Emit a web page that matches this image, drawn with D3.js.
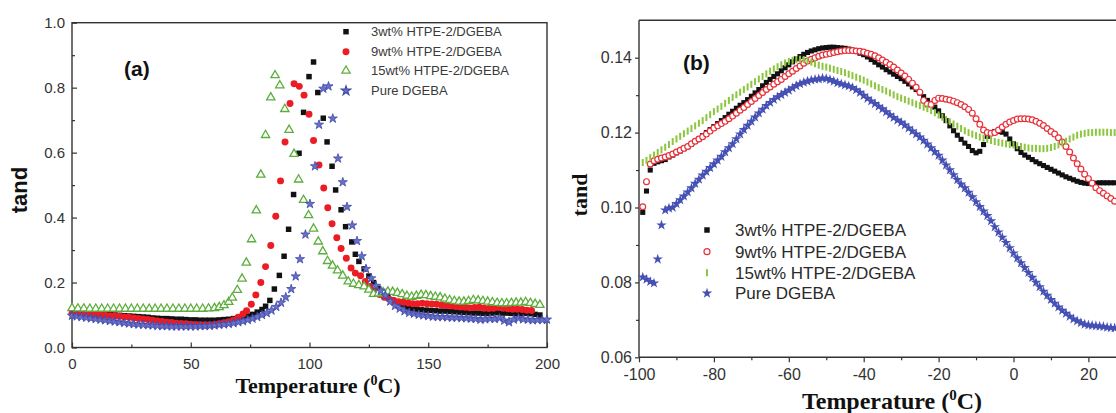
<!DOCTYPE html>
<html lang="en">
<head>
<meta charset="UTF-8">
<title>tand vs Temperature</title>
<script src="https://d3js.org/d3.v7.min.js"></script>
<style>
    body { margin: 0; background: #fff; }
    svg { display: block; }
    .tick text { font-family: "Liberation Sans", Arial, sans-serif; fill: #333; }
    .tick line { stroke: #333; stroke-width: 1.2px; }
    .axis-title { font-family: "Liberation Serif", "Times New Roman", serif; font-weight: bold; fill: #111; }
</style>
</head>
<body>
<div id="chart"></div>
<script>
const seriesNames = ["3wt% HTPE-2/DGEBA", "9wt% HTPE-2/DGEBA", "15wt% HTPE-2/DGEBA", "Pure DGEBA"];

// panel (a): [temperature, tand]
const a3wt = [[0,0.105],[2,0.105],[4,0.105],[6,0.104],[8,0.104],[10,0.103],[12,0.102],[14,0.102],[16,0.101],[18,0.100],[20,0.099],[22,0.098],[24,0.097],[26,0.096],[28,0.095],[30,0.094],[32,0.093],[34,0.091],[36,0.090],[38,0.089],[40,0.089],[42,0.088],[44,0.087],[46,0.087],[48,0.086],[50,0.085],[52,0.085],[54,0.084],[56,0.084],[58,0.084],[60,0.084],[62,0.085],[64,0.086],[66,0.087],[68,0.089],[70,0.091],[72,0.094],[74,0.097],[76,0.102],[78,0.109],[80,0.117],[81.5,0.127],[83.3,0.145],[85.2,0.180],[87.3,0.222],[89.3,0.281],[91.2,0.364],[93.3,0.471],[95.6,0.598],[97.5,0.724],[99.8,0.834],[101.7,0.879],[103.5,0.785],[105.8,0.706],[107.4,0.633],[109.5,0.558],[111,0.485],[113.3,0.424],[115.2,0.372],[117.8,0.325],[119.3,0.287],[120.8,0.265],[123,0.242],[125,0.220],[127,0.200],[129,0.182],[131,0.168],[133,0.156],[135,0.146],[137,0.137],[139,0.129],[141,0.124],[143,0.120],[145,0.118],[147,0.116],[149,0.115],[151,0.114],[153,0.113],[155,0.112],[157,0.112],[159,0.111],[161,0.110],[163,0.109],[165,0.108],[167,0.107],[169,0.106],[171,0.106],[173,0.105],[175,0.105],[177,0.106],[179,0.107],[181,0.106],[183,0.106],[185,0.105],[187,0.104],[189,0.104],[191,0.105],[193,0.104],[195,0.102],[197,0.100]];
const a9wt = [[0,0.105],[2,0.104],[4,0.104],[6,0.103],[8,0.102],[10,0.101],[12,0.100],[14,0.099],[16,0.098],[18,0.097],[20,0.096],[22,0.094],[24,0.093],[26,0.091],[28,0.089],[30,0.088],[32,0.086],[34,0.084],[36,0.082],[38,0.080],[40,0.078],[42,0.077],[44,0.075],[46,0.074],[48,0.073],[50,0.072],[52,0.071],[54,0.070],[56,0.070],[58,0.070],[60,0.071],[62,0.073],[64,0.076],[66,0.079],[68,0.085],[70,0.093],[72,0.103],[73.5,0.113],[75.5,0.133],[77.4,0.162],[79.5,0.200],[81.5,0.249],[83.7,0.314],[85.8,0.404],[87.8,0.513],[89.7,0.633],[91.8,0.751],[93.5,0.812],[95.7,0.804],[97.7,0.777],[99.8,0.718],[101.7,0.637],[104,0.562],[106,0.491],[107.7,0.430],[109.5,0.381],[111.5,0.338],[113.3,0.305],[115.5,0.275],[117.5,0.245],[119.3,0.229],[121.5,0.221],[123.5,0.203],[125.5,0.188],[127.5,0.175],[129.5,0.163],[131.5,0.155],[133.5,0.149],[135.5,0.145],[137.5,0.141],[139.5,0.139],[141.5,0.137],[143.5,0.135],[145.5,0.135],[147.5,0.136],[149.5,0.135],[151.5,0.134],[153.5,0.133],[155.5,0.131],[157.5,0.129],[159.5,0.128],[161.5,0.126],[163.5,0.125],[165.5,0.124],[167.5,0.122],[169.5,0.123],[171.5,0.124],[173.5,0.121],[175.5,0.120],[177.5,0.121],[179.5,0.123],[181.5,0.121],[183.5,0.119],[185.5,0.118],[187.5,0.118],[189.5,0.117],[191.5,0.115],[193.5,0.114]];
const a15wt = [[0,0.121],[2.5,0.120],[5,0.120],[7.5,0.119],[10,0.119],[12.5,0.119],[15,0.119],[17.5,0.119],[20,0.119],[22.5,0.119],[25,0.119],[27.5,0.119],[30,0.119],[32.5,0.119],[35,0.119],[37.5,0.119],[40,0.119],[42.5,0.119],[45,0.119],[47.5,0.119],[50,0.119],[52.5,0.119],[55,0.119],[57.5,0.120],[60,0.121],[62,0.124],[64,0.130],[66,0.140],[67.5,0.153],[69.6,0.177],[71.6,0.212],[73.4,0.261],[75.6,0.333],[77.6,0.422],[79.5,0.532],[81.5,0.654],[83.7,0.770],[85.5,0.838],[87.5,0.807],[89.6,0.734],[91.4,0.670],[93.5,0.596],[95.4,0.517],[97.5,0.454],[99.6,0.407],[101.7,0.366],[103.7,0.326],[105.6,0.296],[107.6,0.266],[109.7,0.252],[111.8,0.237],[114,0.221],[116.3,0.203],[118.5,0.196],[120.8,0.192],[123,0.188],[125,0.178],[127,0.165],[129,0.166],[131,0.170],[133,0.172],[135,0.171],[137,0.168],[139,0.164],[141,0.159],[143,0.156],[145,0.159],[147,0.162],[149,0.161],[151,0.158],[153,0.156],[155,0.154],[157,0.150],[159,0.146],[161,0.143],[163,0.141],[165,0.141],[167,0.143],[169,0.146],[171,0.145],[173,0.143],[175,0.141],[177,0.139],[179,0.137],[181,0.136],[183,0.136],[185,0.137],[187,0.138],[189,0.138],[191,0.140],[193,0.137],[195,0.134],[197,0.131]];
const aPure = [[0,0.098],[2,0.096],[4,0.094],[6,0.092],[8,0.090],[10,0.088],[12,0.086],[14,0.084],[16,0.082],[18,0.080],[20,0.078],[22,0.076],[24,0.074],[26,0.072],[28,0.071],[30,0.070],[32,0.069],[34,0.068],[36,0.067],[38,0.066],[40,0.066],[42,0.065],[44,0.065],[46,0.065],[48,0.065],[50,0.065],[52,0.065],[54,0.066],[56,0.066],[58,0.067],[60,0.068],[62,0.070],[64,0.071],[66,0.073],[68,0.075],[70,0.078],[72,0.081],[74,0.085],[76,0.089],[78,0.094],[80,0.100],[82,0.106],[84,0.114],[86,0.125],[88,0.138],[90,0.155],[92.3,0.180],[94.2,0.219],[96,0.272],[98.3,0.348],[100.2,0.442],[102.3,0.558],[104,0.686],[105.8,0.797],[108,0.804],[109.8,0.705],[112,0.582],[114,0.509],[115.8,0.433],[118,0.376],[120,0.328],[122,0.281],[123.8,0.242],[126,0.213],[128,0.190],[130,0.175],[132,0.160],[134,0.142],[136,0.128],[138,0.120],[140,0.112],[142,0.107],[144,0.104],[146,0.101],[148,0.099],[150,0.097],[152,0.095],[154,0.094],[156,0.094],[158,0.093],[160,0.092],[162,0.092],[164,0.091],[166,0.090],[168,0.089],[170,0.088],[172,0.086],[174,0.087],[176,0.089],[178,0.088],[180,0.090],[182,0.083],[184,0.078],[186,0.086],[188,0.090],[190,0.087],[192,0.086],[194,0.084],[196,0.085],[198,0.085],[200,0.086]];

// panel (b): one value per temperature in tempB
const tempB = [-99,-98,-97,-96,-95,-94,-93,-92,-91,-90,-89,-88,-87,-86,-85,-84,-83,-82,-81,-80,-79,-78,-77,-76,-75,-74,-73,-72,-71,-70,-69,-68,-67,-66,-65,-64,-63,-62,-61,-60,-59,-58,-57,-56,-55,-54,-53,-52,-51,-50,-49,-48,-47,-46,-45,-44,-43,-42,-41,-40,-39,-38,-37,-36,-35,-34,-33,-32,-31,-30,-29,-28,-27,-26,-25,-24,-23,-22,-21,-20,-19,-18,-17,-16,-15,-14,-13,-12,-11,-10,-9,-8,-7,-6,-5,-4,-3,-2,-1,0,1,2,3,4,5,6,7,8,9,10,11,12,13,14,15,16,17,18,19,20,21,22,23,24,25,26,27];
const b3wt = [0.0987,0.1044,0.1100,0.1118,0.1122,0.1125,0.1128,0.1135,0.1140,0.1146,0.1151,0.1157,0.1162,0.1170,0.1177,0.1183,0.1192,0.1200,0.1208,0.1216,0.1224,0.1232,0.1240,0.1249,0.1257,0.1265,0.1273,0.1280,0.1288,0.1297,0.1306,0.1315,0.1325,0.1334,0.1342,0.1350,0.1357,0.1365,0.1373,0.1381,0.1389,0.1397,0.1403,0.1409,0.1414,0.1418,0.1421,0.1424,0.1426,0.1427,0.1428,0.1428,0.1427,0.1426,0.1425,0.1423,0.1420,0.1417,0.1412,0.1408,0.1402,0.1395,0.1388,0.1381,0.1375,0.1368,0.1362,0.1356,0.1350,0.1344,0.1337,0.1330,0.1322,0.1315,0.1306,0.1296,0.1286,0.1278,0.1268,0.1258,0.1245,0.1232,0.1218,0.1205,0.1193,0.1182,0.1172,0.1163,0.1152,0.1146,0.1150,0.1168,0.1190,0.1200,0.1203,0.1203,0.1201,0.1196,0.1183,0.1170,0.1157,0.1147,0.1140,0.1134,0.1128,0.1122,0.1117,0.1112,0.1107,0.1102,0.1097,0.1092,0.1087,0.1082,0.1078,0.1074,0.1070,0.1067,0.1065,0.1064,0.1064,0.1065,0.1066,0.1066,0.1066,0.1066,0.1066];
const b9wt = [0.1002,0.1069,0.1116,0.1125,0.1129,0.1132,0.1135,0.1139,0.1143,0.1148,0.1153,0.1158,0.1163,0.1170,0.1177,0.1183,0.1189,0.1196,0.1204,0.1212,0.1218,0.1224,0.1230,0.1237,0.1244,0.1252,0.1260,0.1267,0.1275,0.1283,0.1291,0.1299,0.1307,0.1315,0.1322,0.1329,0.1336,0.1342,0.1350,0.1357,0.1364,0.1371,0.1378,0.1385,0.1391,0.1396,0.1400,0.1404,0.1407,0.1409,0.1411,0.1414,0.1416,0.1418,0.1419,0.1419,0.1419,0.1418,0.1417,0.1415,0.1412,0.1409,0.1405,0.1400,0.1394,0.1388,0.1382,0.1375,0.1367,0.1359,0.1351,0.1342,0.1332,0.1321,0.1308,0.1286,0.1276,0.1275,0.1286,0.1292,0.1291,0.1289,0.1287,0.1284,0.1280,0.1275,0.1269,0.1262,0.1252,0.1237,0.1222,0.1207,0.1200,0.1198,0.1200,0.1207,0.1215,0.1222,0.1228,0.1232,0.1236,0.1237,0.1237,0.1236,0.1234,0.1230,0.1225,0.1219,0.1211,0.1203,0.1196,0.1186,0.1175,0.1163,0.1148,0.1132,0.1117,0.1103,0.1089,0.1077,0.1065,0.1053,0.1045,0.1038,0.1031,0.1024,0.1017];
const b15wt = [0.1120,0.1126,0.1133,0.1140,0.1147,0.1154,0.1161,0.1168,0.1176,0.1183,0.1190,0.1197,0.1204,0.1211,0.1218,0.1225,0.1232,0.1240,0.1248,0.1256,0.1263,0.1270,0.1278,0.1286,0.1294,0.1301,0.1308,0.1315,0.1322,0.1329,0.1336,0.1343,0.1350,0.1357,0.1364,0.1370,0.1376,0.1381,0.1386,0.1390,0.1393,0.1395,0.1396,0.1395,0.1392,0.1388,0.1384,0.1380,0.1377,0.1375,0.1372,0.1369,0.1366,0.1363,0.1360,0.1356,0.1352,0.1348,0.1344,0.1340,0.1335,0.1330,0.1325,0.1320,0.1315,0.1311,0.1306,0.1301,0.1296,0.1292,0.1288,0.1284,0.1280,0.1276,0.1272,0.1268,0.1264,0.1259,0.1253,0.1247,0.1241,0.1235,0.1229,0.1223,0.1217,0.1211,0.1205,0.1200,0.1196,0.1192,0.1188,0.1185,0.1182,0.1179,0.1176,0.1174,0.1172,0.1170,0.1168,0.1167,0.1165,0.1163,0.1161,0.1159,0.1158,0.1158,0.1157,0.1157,0.1158,0.1160,0.1163,0.1167,0.1172,0.1177,0.1183,0.1188,0.1193,0.1196,0.1198,0.1200,0.1200,0.1201,0.1201,0.1201,0.1201,0.1200,0.1200];
const bPure = [0.0814,0.0808,0.0802,0.0798,0.0862,0.0953,0.0993,0.0998,0.1000,0.1010,0.1020,0.1030,0.1041,0.1052,0.1064,0.1075,0.1086,0.1096,0.1106,0.1116,0.1126,0.1136,0.1148,0.1159,0.1170,0.1183,0.1196,0.1208,0.1219,0.1230,0.1241,0.1252,0.1262,0.1272,0.1280,0.1288,0.1295,0.1301,0.1307,0.1313,0.1319,0.1325,0.1330,0.1334,0.1337,0.1340,0.1342,0.1343,0.1345,0.1344,0.1341,0.1337,0.1333,0.1330,0.1327,0.1324,0.1320,0.1314,0.1307,0.1299,0.1291,0.1284,0.1277,0.1270,0.1263,0.1255,0.1247,0.1240,0.1233,0.1227,0.1220,0.1212,0.1204,0.1196,0.1188,0.1179,0.1169,0.1159,0.1149,0.1139,0.1126,0.1113,0.1100,0.1087,0.1074,0.1062,0.1052,0.1040,0.1028,0.1015,0.1002,0.0990,0.0978,0.0964,0.0948,0.0934,0.0920,0.0906,0.0892,0.0878,0.0865,0.0852,0.0839,0.0826,0.0813,0.0800,0.0788,0.0776,0.0765,0.0754,0.0744,0.0734,0.0725,0.0717,0.0709,0.0702,0.0697,0.0692,0.0688,0.0686,0.0685,0.0684,0.0683,0.0682,0.0680,0.0679,0.0678];

const ticksAx = [0, 50, 100, 150, 200], minorAx = [25, 75, 125, 175];
const ticksAy = [0, 0.2, 0.4, 0.6, 0.8, 1.0], minorAy = [0.1, 0.3, 0.5, 0.7, 0.9];
const ticksBx = [-100, -80, -60, -40, -20, 0, 20], minorBx = [-90, -70, -50, -30, -10, 10];
const ticksBy = [0.06, 0.08, 0.10, 0.12, 0.14], minorBy = [0.07, 0.09, 0.11, 0.13];

const W = 1116, H = 413;
const svg = d3.select("#chart").append("svg").attr("width", W).attr("height", H);
svg.append("rect").attr("width", W).attr("height", H).attr("fill", "#fff");

const sym = (type, size) => d3.symbol().type(type).size(size)();
const plainInt = d => String(d);  // keep the ascii hyphen for negatives

// ---------- panel (a) ----------
const xa = d3.scaleLinear().domain([0, 200]).range([72, 547]);
const ya = d3.scaleLinear().domain([0, 1]).range([347.5, 22.7]);

function inAxis(g, axis) { g.call(axis); g.select(".domain").remove(); }

svg.append("g").attr("transform", `translate(0,${ya(0)})`)
    .call(g => inAxis(g, d3.axisBottom(xa).tickValues(ticksAx).tickSizeInner(-5).tickSizeOuter(0).tickPadding(11).tickFormat(plainInt)))
    .selectAll("text").attr("font-size", 15);
svg.append("g").attr("transform", `translate(0,${ya(0)})`)
    .call(g => inAxis(g, d3.axisBottom(xa).tickValues(minorAx).tickSize(-3).tickFormat("")));
svg.append("g").attr("transform", `translate(${xa(0)},0)`)
    .call(g => inAxis(g, d3.axisLeft(ya).tickValues(ticksAy).tickSizeInner(-5).tickSizeOuter(0).tickPadding(7).tickFormat(d3.format(".1f"))))
    .selectAll("text").attr("font-size", 15);
svg.append("g").attr("transform", `translate(${xa(0)},0)`)
    .call(g => inAxis(g, d3.axisLeft(ya).tickValues(minorAy).tickSize(-3).tickFormat("")));

svg.append("rect")
    .attr("x", xa(0)).attr("y", ya(1))
    .attr("width", xa(200) - xa(0)).attr("height", ya(0) - ya(1))
    .attr("fill", "none").attr("stroke", "#333").attr("stroke-width", 1.4);

const gA = svg.append("g");
gA.selectAll(".a3").data(a3wt).enter().append("path")
    .attr("d", sym(d3.symbolSquare, 30))
    .attr("transform", d => `translate(${xa(d[0])},${ya(d[1])})`)
    .attr("fill", "#111");
gA.selectAll(".a9").data(a9wt).enter().append("path")
    .attr("d", sym(d3.symbolCircle, 38))
    .attr("transform", d => `translate(${xa(d[0])},${ya(d[1])})`)
    .attr("fill", "#ec1c24");
gA.selectAll(".a15").data(a15wt).enter().append("path")
    .attr("d", sym(d3.symbolTriangle, 30))
    .attr("transform", d => `translate(${xa(d[0])},${ya(d[1])})`)
    .attr("fill", "#fff").attr("stroke", "#5cad3c").attr("stroke-width", 1.3);
gA.selectAll(".ap").data(aPure).enter().append("path")
    .attr("d", sym(d3.symbolStar, 26))
    .attr("transform", d => `translate(${xa(d[0])},${ya(d[1])})`)
    .attr("fill", "#6870c8").attr("stroke", "#3f48a8").attr("stroke-width", 0.8);

// legend (a)
const legA = [
    { d: sym(d3.symbolSquare, 30), fill: "#111", stroke: "none" },
    { d: sym(d3.symbolCircle, 38), fill: "#ec1c24", stroke: "none" },
    { d: sym(d3.symbolTriangle, 30), fill: "#fff", stroke: "#5cad3c" },
    { d: sym(d3.symbolStar, 26), fill: "#6870c8", stroke: "#3f48a8" }
];
const legAy = [31.7, 51.7, 70.7, 90.7];
legA.forEach((m, i) => {
    svg.append("path").attr("d", m.d)
        .attr("transform", `translate(346,${legAy[i]})`)
        .attr("fill", m.fill).attr("stroke", m.stroke).attr("stroke-width", 1.2);
    svg.append("text").attr("x", 371).attr("y", legAy[i]).attr("dy", "0.36em")
        .attr("font-family", "Liberation Sans, Arial, sans-serif").attr("font-size", 13)
        .attr("fill", "#3a3a3a").text(seriesNames[i]);
});

svg.append("text").attr("x", 124).attr("y", 76)
    .attr("font-family", "Liberation Sans, Arial, sans-serif").attr("font-weight", "bold")
    .attr("font-size", 21).attr("fill", "#111").text("(a)");

// axis titles (a)
const tA = svg.append("text").attr("class", "axis-title")
    .attr("x", 318).attr("y", 393).attr("text-anchor", "middle").attr("font-size", 22);
tA.append("tspan").text("Temperature (");
tA.append("tspan").attr("dy", -8).attr("font-size", 14).text("0");
tA.append("tspan").attr("dy", 8).text("C)");

svg.append("text").attr("transform", "translate(27,190) rotate(-90)")
    .attr("text-anchor", "middle")
    .attr("font-family", "Liberation Sans, Arial, sans-serif").attr("font-weight", "bold")
    .attr("font-size", 22).attr("fill", "#111").text("tand");

// ---------- panel (b) ----------
const xb = d3.scaleLinear().domain([-100, 40]).range([639, 639 + 140 * 3.745]);
const yb = d3.scaleLinear().domain([0.06, 0.15]).range([357.3, 357.3 - 0.09 * 3745]);

svg.append("g").attr("transform", `translate(0,${yb(0.06)})`)
    .call(g => inAxis(g, d3.axisBottom(xb).tickValues(ticksBx).tickSize(5).tickPadding(6).tickFormat(plainInt)))
    .selectAll("text").attr("font-size", 16);
svg.append("g").attr("transform", `translate(0,${yb(0.06)})`)
    .call(g => inAxis(g, d3.axisBottom(xb).tickValues(minorBx).tickSize(3).tickFormat("")));
svg.append("g").attr("transform", `translate(${xb(-100)},0)`)
    .call(g => inAxis(g, d3.axisLeft(yb).tickValues(ticksBy).tickSize(4).tickPadding(3).tickFormat(d3.format(".2f"))))
    .selectAll("text").attr("font-size", 16);
svg.append("g").attr("transform", `translate(${xb(-100)},0)`)
    .call(g => inAxis(g, d3.axisLeft(yb).tickValues(minorBy).tickSize(3).tickFormat("")));

const frameB = svg.append("g").attr("stroke", "#333").attr("stroke-width", 1.4);
frameB.append("line").attr("x1", xb(-100)).attr("x2", W).attr("y1", yb(0.06)).attr("y2", yb(0.06));
frameB.append("line").attr("x1", xb(-100)).attr("x2", xb(-100)).attr("y1", yb(0.06)).attr("y2", yb(0.15));
frameB.append("line").attr("x1", xb(-100)).attr("x2", W).attr("y1", yb(0.15)).attr("y2", yb(0.15));

const gB = svg.append("g");
gB.selectAll(".b3").data(b3wt).enter().append("path")
    .attr("d", sym(d3.symbolSquare, 26))
    .attr("transform", (d, i) => `translate(${xb(tempB[i])},${yb(d)})`)
    .attr("fill", "#111");
gB.selectAll(".b9").data(b9wt).enter().append("circle")
    .attr("cx", (d, i) => xb(tempB[i])).attr("cy", d => yb(d)).attr("r", 2.9)
    .attr("fill", "#fff").attr("stroke", "#e8303a").attr("stroke-width", 1.2);
gB.selectAll(".b15").data(b15wt).enter().append("rect")
    .attr("x", (d, i) => xb(tempB[i]) - 1).attr("y", d => yb(d) - 3.5)
    .attr("width", 2).attr("height", 7)
    .attr("fill", "#8cc63f");
gB.selectAll(".bp").data(bPure).enter().append("path")
    .attr("d", sym(d3.symbolStar, 34))
    .attr("transform", (d, i) => `translate(${xb(tempB[i])},${yb(d)})`)
    .attr("fill", "#4550b4");

// legend (b)
const legBy = [230, 251.7, 272.7, 293.3];
svg.append("path").attr("d", sym(d3.symbolSquare, 30)).attr("transform", `translate(707,${legBy[0]})`).attr("fill", "#111");
svg.append("circle").attr("cx", 707).attr("cy", legBy[1]).attr("r", 3)
    .attr("fill", "#fff").attr("stroke", "#e8303a").attr("stroke-width", 1.2);
svg.append("rect").attr("x", 706).attr("y", legBy[2] - 3.5).attr("width", 2).attr("height", 7).attr("fill", "#8cc63f");
svg.append("path").attr("d", sym(d3.symbolStar, 34)).attr("transform", `translate(707,${legBy[3]})`).attr("fill", "#4550b4");
seriesNames.forEach((s, i) => {
    svg.append("text").attr("x", 735).attr("y", legBy[i]).attr("dy", "0.36em")
        .attr("font-family", "Liberation Sans, Arial, sans-serif").attr("font-size", 17)
        .attr("fill", "#2a2a2a").text(s);
});

svg.append("text").attr("x", 683).attr("y", 70)
    .attr("font-family", "Liberation Sans, Arial, sans-serif").attr("font-weight", "bold")
    .attr("font-size", 21).attr("fill", "#111").text("(b)");

const tB = svg.append("text").attr("class", "axis-title")
    .attr("x", 892).attr("y", 409).attr("text-anchor", "middle").attr("font-size", 24);
tB.append("tspan").text("Temperature (");
tB.append("tspan").attr("dy", -9).attr("font-size", 15).text("0");
tB.append("tspan").attr("dy", 9).text("C)");

svg.append("text").attr("class", "axis-title").attr("transform", "translate(587,195) rotate(-90)")
    .attr("text-anchor", "middle").attr("font-size", 22).text("tand");
</script>
</body>
</html>
